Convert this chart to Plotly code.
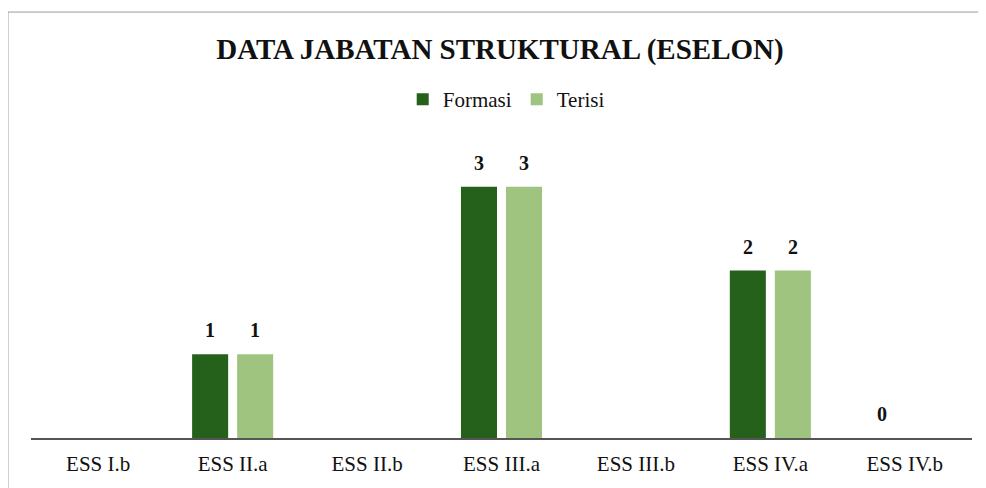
import plotly.graph_objects as go

categories = ["ESS I.b", "ESS II.a", "ESS II.b", "ESS III.a", "ESS III.b", "ESS IV.a", "ESS IV.b"]
formasi = [None, 1, None, 3, None, 2, 0]
terisi = [None, 1, None, 3, None, 2, None]

DARK = "#25611a"
LIGHT = "#9ec47f"
FONT = "Liberation Serif"

fig = go.Figure()
fig.add_trace(go.Bar(name="Formasi", x=categories, y=formasi, marker=dict(color=DARK, line=dict(width=0))))
fig.add_trace(go.Bar(name="Terisi", x=categories, y=terisi, marker=dict(color=LIGHT, line=dict(width=0))))

annotations = []
for series, shift in ((formasi, -22.5), (terisi, 22.5)):
    for c, v in zip(categories, series):
        if v is None:
            continue
        annotations.append(dict(x=c, y=v, xref="x", yref="y", text=f"<b>{v}</b>", showarrow=False,
                                xshift=shift, yshift=24, font=dict(family=FONT, size=20, color="#111")))

# page body has an 8px margin, so the figure is 978x480 placed at (8,8)
fig.update_layout(
    width=978, height=480,
    margin=dict(l=23, r=14, t=142, b=50),
    paper_bgcolor="white", plot_bgcolor="white",
    barmode="group", bargap=0.33, bargroupgap=0.2,
    title=dict(text="<b>DATA JABATAN STRUKTURAL (ESELON)</b>", x=0.503, xanchor="center", y=0.915, yanchor="middle",
               font=dict(family=FONT, size=29, color="#111")),
    legend=dict(orientation="h", x=0.505, xanchor="center", y=1.175, yanchor="middle",
                font=dict(family=FONT, size=21, color="#111"), itemwidth=30, traceorder="normal"),
    font=dict(family=FONT, color="#111"),
    xaxis=dict(showline=True, linecolor="#555", linewidth=1.5, ticks="", showgrid=False, ticklabelstandoff=6,
               tickfont=dict(family=FONT, size=21, color="#111")),
    yaxis=dict(range=[0, 3.44], visible=False, showgrid=False),
    annotations=annotations,
    shapes=[dict(type="rect", xref="paper", yref="paper", x0=-0.0245, x1=1.02, y0=-0.3, y1=1.479,
                 line=dict(color="#999", width=1))],
)

fig.write_html("out.html")
